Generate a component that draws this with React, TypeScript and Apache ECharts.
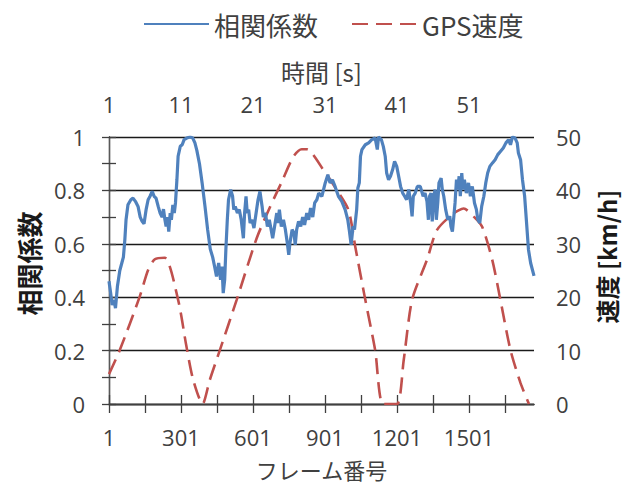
import React, { useEffect, useRef } from "react";
import * as echarts from "echarts";

// frame numbers (1-based) and correlation coefficient values
const corrFrames = [
  1, 8, 14, 22, 28, 36, 46, 55, 61, 67, 72, 80, 92, 101, 111, 122, 131, 139, 147, 156,
  164, 172, 181, 189, 197, 206, 214, 222, 228, 234, 239, 245, 250, 256, 261, 267, 273, 278, 284, 289,
  298, 306, 314, 325, 339, 350, 359, 367, 378, 389, 401, 412, 423, 433, 441, 449, 458, 466, 472, 477,
  483, 488, 494, 499, 508, 516, 521, 527, 536, 544, 552, 561, 566, 572, 577, 583, 589, 597, 605, 614,
  622, 630, 639, 644, 653, 661, 669, 678, 683, 691, 700, 705, 711, 719, 728, 736, 744, 750, 755, 764,
  772, 777, 783, 791, 800, 808, 816, 825, 833, 841, 850, 858, 867, 875, 888, 902, 913, 922, 932, 943,
  957, 971, 985, 996, 1002, 1010, 1018, 1024, 1033, 1038, 1044, 1049, 1055, 1069, 1083, 1096, 1110, 1119, 1124, 1136,
  1144, 1152, 1158, 1166, 1174, 1183, 1191, 1200, 1208, 1216, 1225, 1233, 1241, 1250, 1258, 1264, 1269, 1277, 1286, 1298,
  1310, 1318, 1326, 1332, 1337, 1343, 1348, 1354, 1360, 1365, 1371, 1376, 1385, 1390, 1396, 1404, 1413, 1421, 1426, 1432,
  1438, 1443, 1449, 1454, 1460, 1465, 1471, 1476, 1482, 1490, 1499, 1507, 1515, 1524, 1532, 1538, 1546, 1554, 1563, 1571,
  1579, 1588, 1599, 1610, 1621, 1632, 1644, 1655, 1666, 1674, 1682, 1693, 1702, 1707, 1716, 1724, 1733, 1741, 1749, 1758,
  1772,
];
const corrValues = [
  0.46, 0.415, 0.371, 0.39, 0.359, 0.44, 0.5, 0.53, 0.55, 0.615, 0.69, 0.746, 0.765, 0.771, 0.759, 0.74, 0.7, 0.684, 0.675, 0.73,
  0.765, 0.778, 0.796, 0.778, 0.771, 0.74, 0.715, 0.7, 0.73, 0.69, 0.665, 0.7, 0.646, 0.715, 0.69, 0.746, 0.715, 0.753, 0.84, 0.928,
  0.965, 0.971, 0.99, 0.996, 1.0, 0.996, 0.978, 0.95, 0.9, 0.828, 0.74, 0.653, 0.58, 0.55, 0.515, 0.478, 0.528, 0.465, 0.515, 0.415,
  0.465, 0.578, 0.69, 0.765, 0.803, 0.778, 0.728, 0.74, 0.715, 0.728, 0.69, 0.621, 0.715, 0.778, 0.715, 0.728, 0.678, 0.69, 0.659, 0.715,
  0.765, 0.796, 0.74, 0.7, 0.715, 0.665, 0.69, 0.646, 0.621, 0.665, 0.715, 0.678, 0.728, 0.665, 0.69, 0.653, 0.603, 0.559, 0.603, 0.653,
  0.64, 0.596, 0.653, 0.684, 0.665, 0.7, 0.671, 0.715, 0.69, 0.734, 0.7, 0.753, 0.765, 0.79, 0.778, 0.828, 0.859, 0.828, 0.84, 0.815,
  0.778, 0.759, 0.728, 0.69, 0.653, 0.596, 0.665, 0.653, 0.728, 0.809, 0.828, 0.928, 0.953, 0.971, 0.978, 0.99, 0.996, 0.953, 1.0, 0.99,
  0.965, 0.928, 0.865, 0.84, 0.853, 0.878, 0.909, 0.89, 0.853, 0.815, 0.79, 0.778, 0.765, 0.803, 0.753, 0.703, 0.778, 0.79, 0.815, 0.815,
  0.778, 0.79, 0.759, 0.69, 0.778, 0.79, 0.684, 0.778, 0.803, 0.69, 0.753, 0.828, 0.846, 0.803, 0.778, 0.728, 0.69, 0.703, 0.665, 0.646,
  0.703, 0.753, 0.84, 0.803, 0.853, 0.778, 0.865, 0.803, 0.84, 0.79, 0.828, 0.778, 0.815, 0.753, 0.728, 0.69, 0.678, 0.74, 0.778, 0.828,
  0.865, 0.89, 0.903, 0.915, 0.934, 0.946, 0.959, 0.978, 0.99, 0.971, 1.0, 0.996, 0.978, 0.94, 0.915, 0.84, 0.778, 0.678, 0.578, 0.528,
  0.48,
];

// frame numbers (1-based) and GPS speed [km/h]
const speedFrames = [
  1, 46, 129, 164, 192, 233, 289, 324, 352, 391, 421, 463, 533, 616, 672, 721, 769, 804, 825, 895,
  950, 999, 1027, 1069, 1110, 1143, 1201, 1229, 1264, 1326, 1368, 1437, 1479, 1521, 1556, 1598, 1632, 1674, 1716, 1751,
];
const speedValues = [
  5.6, 10.1, 20.1, 25.1, 27.1, 27.4, 19.5, 10.7, 4.5, 0, 4.5, 10.1, 19.5, 31.0, 36.9, 41.6, 46.3, 47.7, 47.7, 43.8,
  40.1, 36.3, 29.5, 19.5, 10.1, 0, 0, 8.2, 19.5, 27.0, 32.6, 35.7, 36.6, 35.1, 33.2, 27.0, 19.5, 10.1, 3.9, 0,
];

const frameTickLabels = [1, 301, 601, 901, 1201, 1501];
const timeTickLabels = [1, 11, 21, 31, 41, 51];
const LAST_FRAME = 1772;
const FPS = 30;

const LATIN = "'Open Sans', 'Noto Sans CJK JP', sans-serif";
const CJK = "'Noto Sans CJK JP', sans-serif";

export default function App() {
  const ref = useRef<HTMLDivElement>(null);
  useEffect(() => {
    if (!ref.current) return;
    const chart = echarts.init(ref.current, undefined, { renderer: "svg" });
    const corrData = corrFrames.map((f, i) => [f - 1, corrValues[i]]);
    const speedData = speedFrames.map((f, i) => [f - 1, speedValues[i]]);
    const labelStyle = { color: "#404040", fontSize: 22, fontFamily: LATIN };
    chart.setOption({
      animation: false,
      backgroundColor: "#ffffff",
      legend: {
        top: 6,
        left: 138,
        itemWidth: 65,
        itemHeight: 14,
        itemGap: 33,
        itemStyle: { opacity: 0 },
        textStyle: { fontSize: 26, fontFamily: CJK, color: "#404040" },
        data: ["相関係数", "GPS速度"],
      },
      grid: { left: 109, right: 100, top: 137, bottom: 81, containLabel: false, outerBoundsMode: "none" },
      xAxis: [
        {
          type: "value",
          position: "bottom",
          min: 0,
          max: LAST_FRAME - 1,
          interval: 150,
          name: "フレーム番号",
          nameLocation: "middle",
          nameGap: 54,
          nameTextStyle: { fontSize: 22, lineHeight: 22, fontFamily: CJK, color: "#404040" },
          axisLine: { show: true, lineStyle: { color: "#404040", width: 1.3 } },
          axisTick: { show: true, inside: true, length: 9, lineStyle: { color: "#404040", width: 1.3 } },
          splitLine: { show: false },
          axisLabel: {
            ...labelStyle,
            margin: 22,
            showMaxLabel: false,
            formatter: (v: number) => (frameTickLabels.includes(Math.round(v) + 1) ? String(Math.round(v) + 1) : ""),
          },
        },
        {
          type: "value",
          position: "top",
          min: 0,
          max: (LAST_FRAME - 1) / FPS,
          interval: 5,
          name: "時間 [s]",
          nameLocation: "middle",
          nameGap: 54,
          nameTextStyle: { fontSize: 24, fontFamily: CJK, color: "#404040" },
          axisLine: { show: true, lineStyle: { color: "#404040", width: 1.3 } },
          axisTick: { show: true, inside: true, length: 9, lineStyle: { color: "#404040", width: 1.3 } },
          splitLine: { show: false },
          axisLabel: {
            ...labelStyle,
            margin: 22,
            showMaxLabel: false,
            formatter: (v: number) => (timeTickLabels.includes(Math.round(v) + 1) ? String(Math.round(v) + 1) : ""),
          },
        },
      ],
      yAxis: [
        {
          type: "value",
          position: "left",
          min: 0,
          max: 1,
          interval: 0.2,
          name: "相関係数",
          nameLocation: "middle",
          nameGap: 68,
          nameTextStyle: { fontSize: 26, fontWeight: "bold", fontFamily: CJK, color: "#1a1a1a", padding: [0, 0, 0, 14] },
          axisLine: { show: true, lineStyle: { color: "#1a1a1a", width: 1.3 } },
          axisTick: { show: true, inside: true, length: 7, lineStyle: { color: "#404040", width: 1.3 } },
          minorTick: { show: true, splitNumber: 2, length: 7, lineStyle: { color: "#404040", width: 1.3 } },
          splitLine: { show: true, lineStyle: { color: "#1a1a1a", width: 1.3 } },
          axisLabel: { ...labelStyle, margin: 24, formatter: (v: number) => String(Math.round(v * 10) / 10) },
        },
        {
          type: "value",
          position: "right",
          min: 0,
          max: 50,
          interval: 10,
          name: "速度 [km/h]",
          nameLocation: "middle",
          nameGap: 60,
          nameTextStyle: { fontSize: 24, fontWeight: "bold", fontFamily: CJK, color: "#1a1a1a", padding: [0, 0, 0, 28] },
          axisLine: { show: true, lineStyle: { color: "#595959", width: 1.3 } },
          axisTick: { show: true, inside: true, length: 7, lineStyle: { color: "#404040", width: 1.3 } },
          minorTick: { show: true, splitNumber: 2, length: 7, lineStyle: { color: "#404040", width: 1.3 } },
          splitLine: { show: false },
          axisLabel: { ...labelStyle, margin: 22 },
        },
      ],
      series: [
        {
          name: "相関係数",
          type: "line",
          xAxisIndex: 0,
          yAxisIndex: 0,
          data: corrData,
          symbol: "none",
          lineStyle: { color: "#4F81BD", width: 3.2 },
          itemStyle: { color: "#4F81BD" },
          z: 3,
        },
        {
          name: "GPS速度",
          type: "line",
          xAxisIndex: 0,
          yAxisIndex: 1,
          data: speedData,
          symbol: "none",
          smooth: 0.25,
          lineStyle: { color: "#C0504D", width: 2.6, type: [16, 8] },
          itemStyle: { color: "#C0504D" },
          z: 2,
        },
      ],
    });
    return () => chart.dispose();
  }, []);
  return (
    <div
      ref={ref}
      style={{ position: "fixed", left: 0, top: 0, width: 634, height: 485, background: "#fff" }}
    />
  );
}
